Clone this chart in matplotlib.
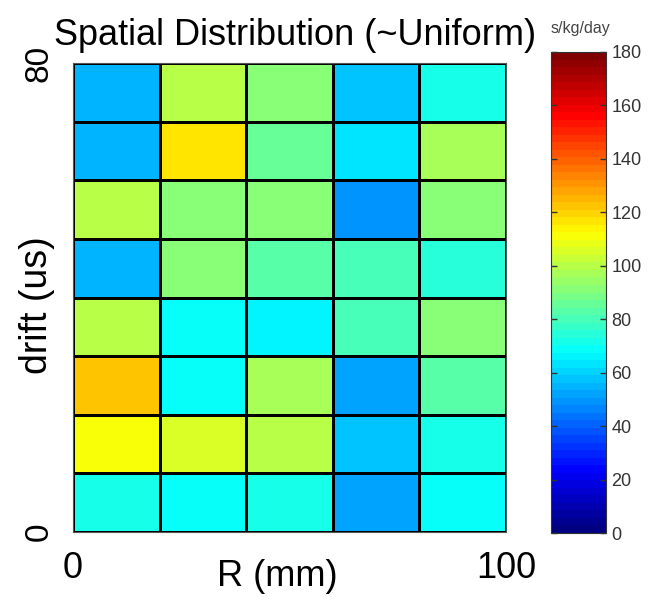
import numpy as np
import matplotlib
matplotlib.use('Agg')
import matplotlib.pyplot as plt
from matplotlib.colors import LinearSegmentedColormap

plt.rcParams['font.family'] = ['Liberation Sans', 'DejaVu Sans']

# bin edges
r_edges = [0, 20, 40, 60, 80, 100]
drift_edges = [0, 10, 20, 30, 40, 50, 60, 70, 80]

# rate per bin, rows go from drift 0 upward
rate = [
	[72, 70, 72, 53, 70],
	[110, 106, 100, 57, 72],
	[122, 70, 97, 53, 82],
	[100, 70, 67, 80, 92],
	[54, 90, 82, 80, 75],
	[100, 90, 92, 50, 90],
	[54, 116, 87, 64, 97],
	[54, 100, 92, 59, 71],
]

cbar_ticks = [0, 20, 40, 60, 80, 100, 120, 140, 160, 180]

#matlab style jet with 64 levels
jet64 = LinearSegmentedColormap('jet64', {
	'red':   [(0, 0, 0), (0.375, 0, 0), (0.625, 1, 1), (0.875, 1, 1), (1, 0.5, 0.5)],
	'green': [(0, 0, 0), (0.125, 0, 0), (0.375, 1, 1), (0.625, 1, 1), (0.875, 0, 0), (1, 0, 0)],
	'blue':  [(0, 0.5, 0.5), (0.125, 1, 1), (0.375, 1, 1), (0.625, 0, 0), (1, 0, 0)],
}, N=64)

fig = plt.figure(figsize=(6.5, 5.97), dpi=100)
ax = fig.add_axes([73/650, 1-532/597, 433/650, 469/597])

mesh = ax.pcolormesh(r_edges, drift_edges, np.array(rate), cmap=jet64,
	vmin=0, vmax=180, edgecolors='k', linewidth=1.0)

ax.set_xlim(0, 100)
ax.set_ylim(0, 80)
ax.set_xticks([0, 100])
ax.set_yticks([0, 80])
ax.tick_params(axis='x', length=0, labelsize=26, pad=14)
ax.tick_params(axis='y', length=0, labelsize=24, pad=13)
plt.setp(ax.get_yticklabels(), rotation=90, va='center')
for s in ax.spines.values():
	s.set_color('#555555')

ax.set_xlabel('R (mm)', fontsize=26, va='center')
ax.xaxis.set_label_coords(0.473, -0.094)
ax.set_ylabel('drift (us)', fontsize=27, va='center', ha='center')
ax.yaxis.set_label_coords(-0.083, 0.484)

ax.set_title('Spatial Distribution (~Uniform)', fontsize=26, pad=13, x=0.513)

cax = fig.add_axes([551/650, 1-533/597, 55/650, 481/597])
cb = fig.colorbar(mesh, cax=cax, ticks=cbar_ticks)
cb.outline.set_edgecolor('#333333')
cax.tick_params(direction='in', left=True, right=True, length=4, width=1,
	colors='#333333', labelsize=13, pad=4)
fig.text(551/650, 1-33/597, 's/kg/day', fontsize=11.5, color='#444444', va='baseline')

fig.savefig('out.png', dpi=100)
